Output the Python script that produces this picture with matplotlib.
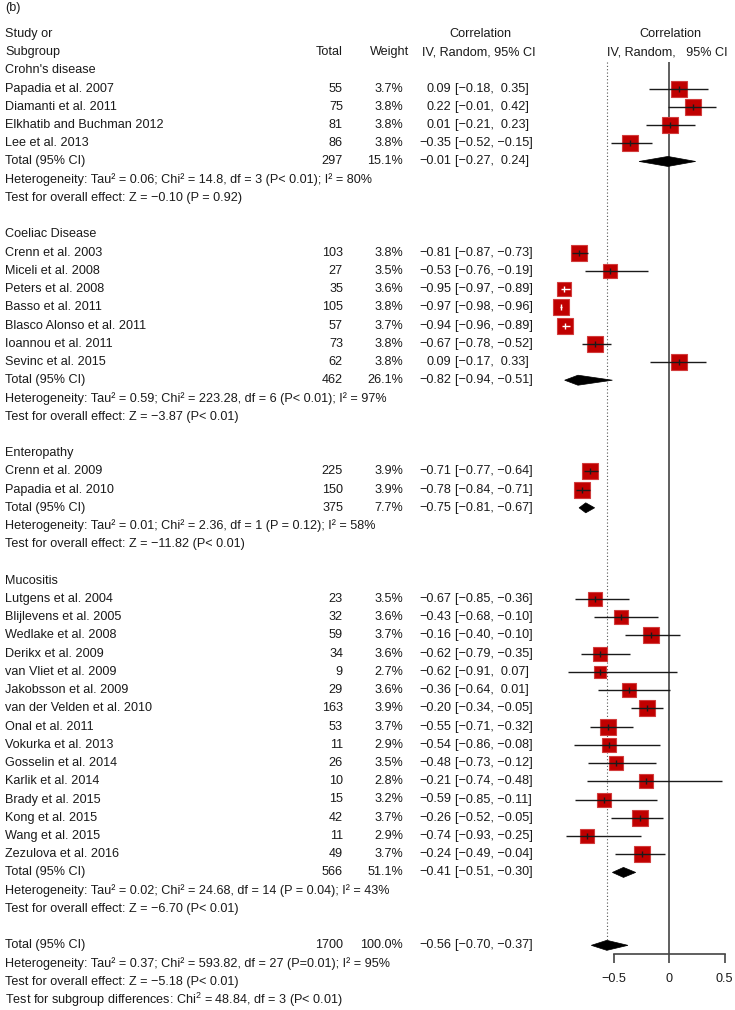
# Librerias
import numpy as np
import matplotlib.pyplot as plt
from matplotlib.patches import Polygon

plt.rcParams['font.family'] = ['Liberation Sans', 'DejaVu Sans']
plt.rcParams['mathtext.fontset'] = 'custom'
plt.rcParams['mathtext.rm'] = 'Liberation Sans'
plt.rcParams['mathtext.default'] = 'regular'

# Datos: Crohn's disease
crohn_studies = ["Papadia et al. 2007", "Diamanti et al. 2011", "Elkhatib and Buchman 2012", "Lee et al. 2013"]
crohn_n = [55, 75, 81, 86]
crohn_w = [3.7, 3.8, 3.8, 3.8]
crohn_est = [0.09, 0.22, 0.01, -0.35]
crohn_lo = [-0.18, -0.01, -0.21, -0.52]
crohn_hi = [0.35, 0.42, 0.23, -0.15]

# Coeliac Disease
coeliac_studies = ["Crenn et al. 2003", "Miceli et al. 2008", "Peters et al. 2008", "Basso et al. 2011",
                   "Blasco Alonso et al. 2011", "Ioannou et al. 2011", "Sevinc et al. 2015"]
coeliac_n = [103, 27, 35, 105, 57, 73, 62]
coeliac_w = [3.8, 3.5, 3.6, 3.8, 3.7, 3.8, 3.8]
coeliac_est = [-0.81, -0.53, -0.95, -0.97, -0.94, -0.67, 0.09]
coeliac_lo = [-0.87, -0.76, -0.97, -0.98, -0.96, -0.78, -0.17]
coeliac_hi = [-0.73, -0.19, -0.89, -0.96, -0.89, -0.52, 0.33]

# Enteropathy
entero_studies = ["Crenn et al. 2009", "Papadia et al. 2010"]
entero_n = [225, 150]
entero_w = [3.9, 3.9]
entero_est = [-0.71, -0.78]
entero_lo = [-0.77, -0.84]
entero_hi = [-0.64, -0.71]

# Mucositis
muco_studies = ["Lutgens et al. 2004", "Blijlevens et al. 2005", "Wedlake et al. 2008", "Derikx et al. 2009",
                "van Vliet et al. 2009", "Jakobsson et al. 2009", "van der Velden et al. 2010", "Onal et al. 2011",
                "Vokurka et al. 2013", "Gosselin et al. 2014", "Karlik et al. 2014", "Brady et al. 2015",
                "Kong et al. 2015", "Wang et al. 2015", "Zezulova et al. 2016"]
muco_n = [23, 32, 59, 34, 9, 29, 163, 53, 11, 26, 10, 15, 42, 11, 49]
muco_w = [3.5, 3.6, 3.7, 3.6, 2.7, 3.6, 3.9, 3.7, 2.9, 3.5, 2.8, 3.2, 3.7, 2.9, 3.7]
muco_est = [-0.67, -0.43, -0.16, -0.62, -0.62, -0.36, -0.20, -0.55, -0.54, -0.48, -0.21, -0.59, -0.26, -0.74, -0.24]
muco_lo = [-0.85, -0.68, -0.40, -0.79, -0.91, -0.64, -0.34, -0.71, -0.86, -0.73, -0.74, -0.85, -0.52, -0.93, -0.49]
muco_hi = [-0.36, -0.10, 0.10, -0.35, 0.07, 0.01, -0.05, -0.32, -0.08, -0.12, 0.48, -0.11, -0.05, -0.25, -0.04]
# valores impresos en la tabla original (difieren del grafico)
printed_hi = {"Wedlake et al. 2008": -0.10, "Karlik et al. 2014": -0.48}

# Totales por subgrupo
group_names = ["Crohn's disease", "Coeliac Disease", "Enteropathy", "Mucositis"]
sub_n = [297, 462, 375, 566]
sub_w = [15.1, 26.1, 7.7, 51.1]
sub_est = [-0.01, -0.82, -0.75, -0.41]
sub_lo = [-0.27, -0.94, -0.81, -0.51]
sub_hi = [0.24, -0.51, -0.67, -0.30]
sub_het = ["Heterogeneity: Tau² = 0.06; Chi² = 14.8, df = 3 (P< 0.01); I² = 80%",
           "Heterogeneity: Tau² = 0.59; Chi² = 223.28, df = 6 (P< 0.01); I² = 97%",
           "Heterogeneity: Tau² = 0.01; Chi² = 2.36, df = 1 (P = 0.12); I² = 58%",
           "Heterogeneity: Tau² = 0.02; Chi² = 24.68, df = 14 (P = 0.04); I² = 43%"]
sub_test = ["Test for overall effect: Z = −0.10 (P = 0.92)",
            "Test for overall effect: Z = −3.87 (P< 0.01)",
            "Test for overall effect: Z = −11.82 (P< 0.01)",
            "Test for overall effect: Z = −6.70 (P< 0.01)"]

# Total general
total_n = 1700
total_w = 100.0
total_est = -0.56
total_lo = -0.70
total_hi = -0.37
total_lines = ["Heterogeneity: Tau² = 0.37; Chi² = 593.82, df = 27 (P=0.01); I² = 95%",
               "Test for overall effect: Z = −5.18 (P< 0.01)",
               "Test for subgroup differences: Chi$^{2}$ = 48.84, df = 3 (P< 0.01)"]

tick_vals = [-0.5, 0, 0.5]
tick_labels = ["−0.5", "0", "0.5"]

groups = [
    (crohn_studies, crohn_n, crohn_w, crohn_est, crohn_lo, crohn_hi),
    (coeliac_studies, coeliac_n, coeliac_w, coeliac_est, coeliac_lo, coeliac_hi),
    (entero_studies, entero_n, entero_w, entero_est, entero_lo, entero_hi),
    (muco_studies, muco_n, muco_w, muco_est, muco_lo, muco_hi),
]

# Formato de numeros
def fmt(v):
    s = "%.2f" % abs(v)
    return "−" + s if v < 0 else s

def fmt_hi(v):
    return fmt(v) if v < 0 else " " + fmt(v)

# Figura
fig = plt.figure(figsize=(7.35, 10.10), dpi=100)
tx = fig.add_axes([0, 0, 1, 1])
tx.set_xlim(0, 735)
tx.set_ylim(1010, 0)
tx.axis('off')

x0_px, xz_px, unit_px = 540, 669, 111.0
ax = fig.add_axes([x0_px / 735, 0, (735 - x0_px) / 735, 1])
ax.set_xlim((x0_px - xz_px) / unit_px, (735 - xz_px) / unit_px)
ax.set_ylim(1010, 0)
ax.patch.set_alpha(0)

fs = 9.1
tc = '#1a1a1a'
dy = 18.23
y0 = 70.3

def fila(k):
    return y0 + k * dy

def put(x, y, s, ha='left'):
    tx.text(x, y, s, ha=ha, va='center', fontsize=fs, color=tc)

def row_text(y, name, n, w, est, lo, hi):
    put(5, y, name)
    put(343, y, str(n), 'right')
    put(403, y, "%.1f%%" % w, 'right')
    put(451, y, fmt(est), 'right')
    put(455, y, "[" + fmt(lo) + ", " + fmt_hi(hi) + "]")

def diamond(y, est, lo, hi):
    ax.add_patch(Polygon([[lo, y], [est, y - 5], [hi, y], [est, y + 5]],
                         closed=True, facecolor='black', edgecolor='black', lw=0.5, zorder=4))

# Encabezados
put(5, 8, "(b)")
put(5, fila(-2), "Study or")
put(5, fila(-1), "Subgroup")
put(343, fila(-1), "Total", 'right')
put(409, fila(-1), "Weight", 'right')
put(480, fila(-2), "Correlation", 'center')
put(479, fila(-1), "IV, Random, 95% CI", 'center')
put(670, fila(-2), "Correlation", 'center')
put(667, fila(-1), "IV, Random,   95% CI", 'center')

# Filas
k = 0
for g, (names, ns, ws, est, lo, hi) in enumerate(groups):
    put(5, fila(k), group_names[g])
    k += 1
    for i in range(len(names)):
        y = fila(k)
        hi_txt = printed_hi.get(names[i], hi[i])
        row_text(y, names[i], ns[i], ws[i], est[i], lo[i], hi_txt)
        side = 7.9 * np.sqrt(ws[i])
        ax.plot(est[i], y, marker='s', ms=side * 0.72, mfc='#C00000', mec='#D23C3C', mew=0.8, zorder=3)
        inside = (hi[i] - lo[i]) * unit_px < 0.7 * side
        lc = 'white' if inside else '#1a1a1a'
        ax.hlines(y, lo[i], hi[i], color=lc, lw=1.0, zorder=5)
        ax.plot(est[i], y, marker='|', ms=4, mew=1.0, color=lc, zorder=5)
        k += 1
    y = fila(k)
    row_text(y, "Total (95% CI)", sub_n[g], sub_w[g], sub_est[g], sub_lo[g], sub_hi[g])
    diamond(y, sub_est[g], sub_lo[g], sub_hi[g])
    k += 1
    put(5, fila(k), sub_het[g])
    k += 1
    put(5, fila(k), sub_test[g])
    k += 2

# Total general
y_tot = fila(k)
row_text(y_tot, "Total (95% CI)", total_n, total_w, total_est, total_lo, total_hi)
diamond(y_tot, total_est, total_lo, total_hi)
for j, s in enumerate(total_lines):
    put(5, fila(k + 1 + j), s)

# Lineas de referencia
ax.vlines(0, 62, 954, color='#444444', lw=1.2, zorder=1)
ax.vlines(total_est, 62, y_tot - 5, color='#555555', lw=0.8, linestyles=(0, (1, 2)), zorder=1)

# Eje
for s in ['left', 'top', 'right']:
    ax.spines[s].set_visible(False)
ax.spines['bottom'].set_position(('data', 954))
ax.spines['bottom'].set_bounds(-0.5, 0.5)
ax.spines['bottom'].set_color('#444444')
ax.spines['bottom'].set_linewidth(1.2)
ax.set_yticks([])
ax.set_xticks(tick_vals, labels=tick_labels)
ax.tick_params(axis='x', direction='out', length=6.5, width=1.2, color='#444444',
               labelsize=fs, labelcolor=tc, pad=7)

fig.savefig('out.png', dpi=100)
